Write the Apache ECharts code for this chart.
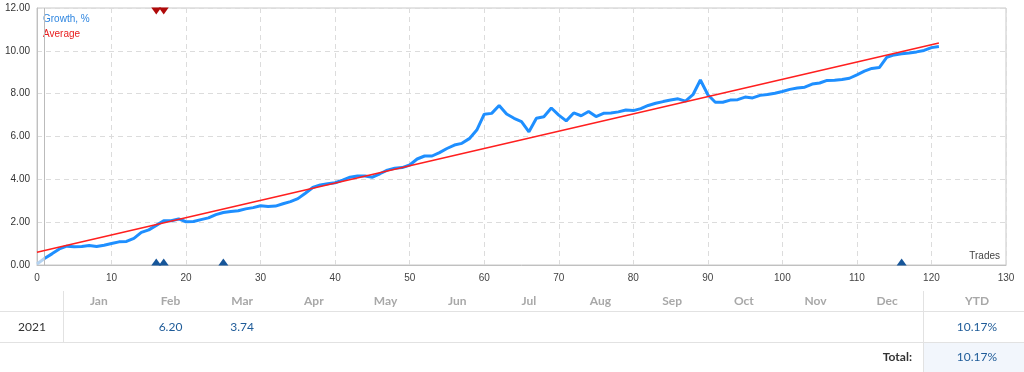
<!DOCTYPE html>
<html><head><meta charset="utf-8">
<script src="https://cdn.jsdelivr.net/npm/echarts@6/dist/echarts.min.js"></script>
<style>html,body{margin:0;padding:0;background:#fff;}#c{width:1024px;height:372px;}</style>
</head><body><div id="c"></div>
<script>
// ---- data ----
const startTrades = [0, 1];
const startGrowth = [0.05, 0.3];
const growth = [
  0.05, 0.3, 0.52, 0.75, 0.88, 0.85, 0.86, 0.91, 0.86, 0.92,
  1.0, 1.08, 1.1, 1.24, 1.52, 1.64, 1.85, 2.07, 2.07, 2.15,
  2.02, 2.03, 2.12, 2.2, 2.35, 2.45, 2.5, 2.53, 2.62, 2.68,
  2.77, 2.73, 2.75, 2.86, 2.96, 3.1, 3.35, 3.62, 3.74, 3.79,
  3.84, 3.96, 4.1, 4.16, 4.16, 4.1, 4.26, 4.43, 4.52, 4.55,
  4.67, 4.95, 5.09, 5.09, 5.25, 5.44, 5.6, 5.68, 5.9, 6.3,
  7.04, 7.08, 7.45, 7.05, 6.85, 6.7, 6.22, 6.85, 6.92, 7.33,
  7.0, 6.73, 7.1, 6.97, 7.17, 6.93, 7.08, 7.1, 7.15, 7.24,
  7.21, 7.3, 7.45, 7.55, 7.63, 7.7, 7.76, 7.65, 7.95, 8.64,
  7.95, 7.6, 7.6, 7.7, 7.72, 7.84, 7.8, 7.92, 7.96, 8.02,
  8.1, 8.2, 8.26, 8.3, 8.45, 8.5, 8.62, 8.63, 8.66, 8.72,
  8.88, 9.05, 9.18, 9.22, 9.7, 9.81, 9.86, 9.9, 9.95, 10.02,
  10.15, 10.2
];
const averageTrades = [0, 121];
const averageValues = [0.6, 10.37];
const depositTrades = [16, 17, 25, 116];
const withdrawTrades = [16, 17];
const xTicks = {min: 0, max: 130, step: 10};
const yTicks = {min: 0, max: 12, step: 2};
const months = ['Jan','Feb','Mar','Apr','May','Jun','Jul','Aug','Sep','Oct','Nov','Dec'];
const yearLabel = '2021';
const monthValues = ['', '6.20', '3.74', '', '', '', '', '', '', '', '', ''];
const ytdHeader = 'YTD';
const ytdValue = '10.17%';
const totalLabel = 'Total:';
const totalValue = '10.17%';
const legendNames = ['Growth, %', 'Average'];
const xAxisName = 'Trades';

// ---- build ----
const growthData = growth.map((v, i) => [i, v]).slice(1);
const startData = startTrades.map((t, i) => [t, startGrowth[i]]);
const avgData = averageTrades.map((t, i) => [t, averageValues[i]]);

const BLUE = '#1e8fff';
const RED = '#ff1f1f';
const TXT_BLUE = '#1e5b98';

// table graphics
const g = [];
const colL = 63, colR = 923, colW = (colR - colL) / 12;
g.push({type:'rect', shape:{x:colR, y:343, width:1024-colR, height:29}, style:{fill:'#f2f6fc'}, silent:true});
g.push({type:'line', shape:{x1:0, y1:311.5, x2:1024, y2:311.5}, style:{stroke:'#e2e2e2', lineWidth:1}});
g.push({type:'line', shape:{x1:0, y1:342.5, x2:1024, y2:342.5}, style:{stroke:'#e2e2e2', lineWidth:1}});
g.push({type:'line', shape:{x1:colL+0.5, y1:291, x2:colL+0.5, y2:342}, style:{stroke:'#e2e2e2', lineWidth:1}});
g.push({type:'line', shape:{x1:colR+0.5, y1:291, x2:colR+0.5, y2:372}, style:{stroke:'#e2e2e2', lineWidth:1}});
months.forEach((m, i) => {
  const cx = colL + colW * (i + 0.5);
  g.push({type:'text', x:cx, y:301, style:{text:m, fill:'#a8a8a8', font:'bold 12px Lato', align:'center', verticalAlign:'middle'}});
  if (monthValues[i]) g.push({type:'text', x:cx, y:327, style:{text:monthValues[i], fill:TXT_BLUE, font:'12px Lato', align:'center', verticalAlign:'middle'}});
});
g.push({type:'text', x:977, y:301, style:{text:ytdHeader, fill:'#a8a8a8', font:'bold 12px Lato', align:'center', verticalAlign:'middle'}});
g.push({type:'text', x:32, y:327, style:{text:yearLabel, fill:'#333', font:'12px Lato', align:'center', verticalAlign:'middle'}});
g.push({type:'text', x:977, y:327, style:{text:ytdValue, fill:TXT_BLUE, font:'12px Lato', align:'center', verticalAlign:'middle'}});
g.push({type:'text', x:912, y:357, style:{text:totalLabel, fill:'#333', font:'bold 12px Lato', align:'right', verticalAlign:'middle'}});
g.push({type:'text', x:977, y:357, style:{text:totalValue, fill:TXT_BLUE, font:'12px Lato', align:'center', verticalAlign:'middle'}});
// legend + axis name
g.push({type:'text', x:43, y:19, style:{text:legendNames[0], fill:'#2f86e0', font:'10px "Liberation Sans"', align:'left', verticalAlign:'middle'}});
g.push({type:'text', x:43, y:34, style:{text:legendNames[1], fill:'#e82020', font:'10px "Liberation Sans"', align:'left', verticalAlign:'middle'}});
g.push({type:'text', x:1000, y:256, style:{text:xAxisName, fill:'#444', font:'10px "Liberation Sans"', align:'right', verticalAlign:'middle'}});

const chart = echarts.init(document.getElementById('c'), null, {renderer:'canvas'});
chart.setOption({
  animation: false,
  backgroundColor: '#fff',
  grid: {left: 37, right: 18, top: 8, bottom: 107, show: true, borderColor: '#c8c8c8', borderWidth: 1},
  xAxis: {
    type: 'value', min: xTicks.min, max: xTicks.max, interval: xTicks.step,
    axisLine: {show: true, lineStyle: {color: '#c0c0c0'}},
    axisTick: {show: false},
    axisLabel: {color: '#444', fontSize: 10, fontFamily: 'Liberation Sans', margin: 8},
    splitLine: {show: true, lineStyle: {color: '#dcdcdc', type: [5, 4]}}
  },
  yAxis: {
    type: 'value', min: yTicks.min, max: yTicks.max, interval: yTicks.step,
    axisLine: {show: true, lineStyle: {color: '#c0c0c0'}},
    axisTick: {show: false},
    axisLabel: {color: '#333', fontSize: 10, fontFamily: 'Liberation Sans', margin: 7, formatter: v => v.toFixed(2)},
    splitLine: {show: true, lineStyle: {color: '#dcdcdc', type: [5, 4]}}
  },
  series: [
    {type: 'line', data: startData, symbol: 'none', lineStyle: {color: '#b4d2f0', width: 3}, z: 3,
     markLine: {silent: true, symbol: 'none', label: {show: false}, lineStyle: {color: '#bbbbbb', type: 'solid', width: 1}, data: [{xAxis: 1}]}},
    {type: 'line', data: growthData, symbol: 'none', lineStyle: {color: BLUE, width: 3}, z: 4},
    {type: 'line', data: avgData, symbol: 'none', lineStyle: {color: RED, width: 1.5}, z: 5},
    {type: 'scatter', data: depositTrades.map(t => [t, 0]), symbol: 'triangle', symbolSize: [10, 7], symbolOffset: [0, -3], itemStyle: {color: '#17569a', opacity: 1}, z: 6, clip: false},
    {type: 'scatter', data: withdrawTrades.map(t => [t, 12]), symbol: 'triangle', symbolRotate: 180, symbolSize: [10, 7], symbolOffset: [0, 3], itemStyle: {color: '#b00a0a', opacity: 1}, z: 6, clip: false}
  ],
  graphic: g
});
</script></body></html>
